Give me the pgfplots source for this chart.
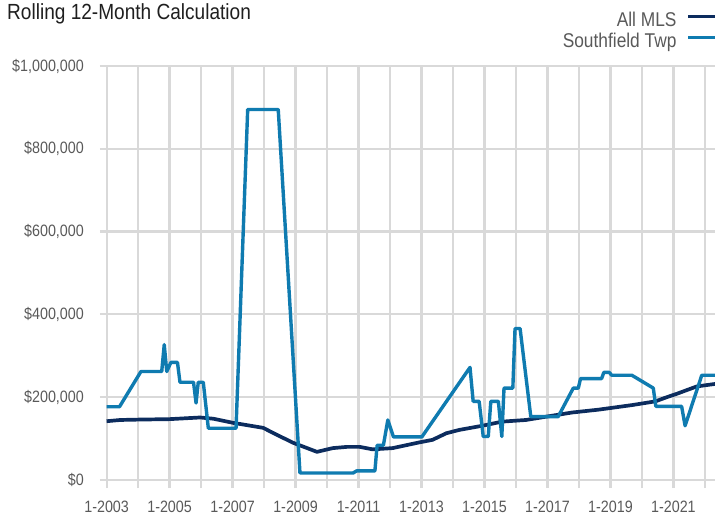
\documentclass[border=0pt]{standalone}
\usepackage{pgfplots}
\pgfplotsset{compat=1.18}
\usepackage{pgfplotstable}
\usepackage{fontspec}
\setmainfont{Liberation Sans}[FakeStretch=0.87]
\definecolor{mls}{HTML}{0C2C5E}
\definecolor{sft}{HTML}{0F7BB0}
\definecolor{gridc}{HTML}{D9D9D9}
\definecolor{lbl}{HTML}{595959}

\pgfplotstableread{
x y
2003.00 142
2003.44 145
2004.08 146
2005.00 147
2005.97 151
2006.39 148
2007.02 138
2007.97 126
2008.41 109
2008.92 90
2009.68 68
2010.18 77
2010.63 80
2011.04 80
2011.45 74
2012.08 77
2012.94 91
2013.35 97
2013.79 113
2014.20 121
2014.93 131
2015.56 141
2016.32 145
2016.96 153
2017.78 163
2018.63 170
2019.69 181
2020.43 190
2020.75 199
2021.10 208
2021.74 226
2022.32 232
}\mls

\pgfplotstableread{
x y
2003.00 177
2003.41 177
2004.09 262
2004.75 262
2004.83 327
2004.91 262
2005.04 284
2005.25 284
2005.33 236
2005.76 236
2005.84 186
2005.91 236
2006.07 236
2006.23 125
2007.11 125
2007.48 895
2008.45 895
2009.14 17
2010.83 17
2010.94 22
2011.52 22
2011.59 84
2011.79 84
2011.93 145
2012.11 104
2013.01 104
2014.54 272
2014.64 190
2014.83 190
2014.96 105
2015.12 105
2015.20 190
2015.44 190
2015.55 105
2015.62 222
2015.90 222
2015.97 366
2016.13 366
2016.47 153
2017.34 153
2017.82 222
2017.98 222
2018.05 245
2018.72 245
2018.79 260
2018.96 260
2019.04 253
2019.68 253
2020.36 222
2020.44 178
2021.26 178
2021.37 131
2021.90 253
2022.32 253
}\sft

\begin{document}
\begin{tikzpicture}
\path[use as bounding box] (-100bp,-35bp) rectangle (615bp,480bp);
\node[anchor=base west, inner sep=0pt, font=\fontsize{22}{26}\selectfont, text=black!88] at (-93bp,460.7bp) {Rolling 12-Month Calculation};
\begin{axis}[
  at={(0,0)}, anchor=south west,
  scale only axis, width=615bp, height=414bp,
  xmin=2002.79, xmax=2022.32, ymin=0, ymax=1000,
  axis line style={draw=none},
  xtick={2003,2005,...,2021},
  xticklabels={1-2003,1-2005,1-2007,1-2009,1-2011,1-2013,1-2015,1-2017,1-2019,1-2021},
  minor xtick={2004,2006,...,2022},
  ytick={0,200,...,1000},
  yticklabels={{\$0},{\$200,000},{\$400,000},{\$600,000},{\$800,000},{\$1,000,000}},
  xmajorgrids, xminorgrids, ymajorgrids,
  major grid style={gridc, line width=2.2bp},
  minor grid style={gridc, line width=2.2bp},
  xtick pos=left, ytick pos=left,
  tick align=outside,
  major tick length=8bp, minor tick length=8bp,
  xtick style={gridc, line width=2.2bp},
  ytick style={draw=none},
  ticklabel style={font=\fontsize{16.5}{20}\selectfont, text=lbl},
  xticklabel style={anchor=north, inner sep=0pt, yshift=-13bp},
  yticklabel style={anchor=east, inner sep=0pt, xshift=-8bp},
  legend cell align=right,
  legend plot pos=right,
  legend style={at={(1,1)}, anchor=north east, xshift=3bp, yshift=54bp,
    draw=none, fill=none, inner sep=0pt, row sep=2bp, /tikz/column sep=10bp,
    font=\fontsize{20}{24}\selectfont, text=lbl,
    nodes={inner sep=0pt, text height=14.5bp, text depth=4.5bp}},
  legend image code/.code={\draw[#1, line width=3bp] (0bp,5.5bp) -- (28.3bp,5.5bp);},
]
\addplot[mls, line width=3.7bp, line join=round] table[x=x,y=y] {\mls};
\addlegendentry{All MLS}
\addplot[sft, line width=3.4bp, line join=round] table[x=x,y=y] {\sft};
\addlegendentry{Southfield Twp}
\end{axis}
\end{tikzpicture}
\end{document}
